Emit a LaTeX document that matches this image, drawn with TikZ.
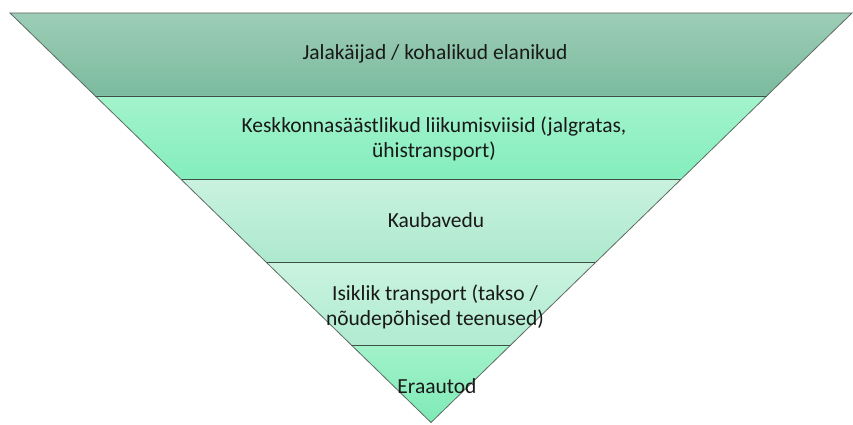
\documentclass[tikz,border=0pt]{standalone}
\usepackage{fontspec}
\setmainfont{Carlito}
\definecolor{bAt}{HTML}{9DCDB6}\definecolor{bAb}{HTML}{7BBB9E}
\definecolor{bBt}{HTML}{A3F3CC}\definecolor{bBb}{HTML}{84EEBD}
\definecolor{bCt}{HTML}{C9F2DF}\definecolor{bCb}{HTML}{ADE9CD}
\definecolor{bDt}{HTML}{CAF3DF}\definecolor{bDb}{HTML}{B0EBD1}
\definecolor{bEt}{HTML}{A2F2CA}\definecolor{bEb}{HTML}{7EEAB6}
\definecolor{edge}{HTML}{5E6A63}
\definecolor{sep}{HTML}{3E5046}
\begin{document}
\begin{tikzpicture}[x=1pt,y=-1pt,
  lbl/.style={font=\fontsize{21.5}{25}\selectfont, align=center, text=black!90, inner sep=0pt},
  outline/.style={draw=edge, line width=0.8pt},
  seprule/.style={draw=sep, line width=0.9pt}]
\useasboundingbox (0,0) rectangle (853,425);
\def\s{1.028}
\def\yA{13}\def\yB{96}\def\yC{179}\def\yD{262}\def\yE{345}\def\yF{422.5}
\coordinate (apex) at (431,\yF);
\foreach \ya/\yb/\ct/\cb in {\yA/\yB/bAt/bAb, \yB/\yC/bBt/bBb, \yC/\yD/bCt/bCb, \yD/\yE/bDt/bDb}{
  \shade[top color=\ct, bottom color=\cb]
    ({10+(\ya-13)*\s},\ya) -- ({852-(\ya-13)*\s},\ya) --
    ({852-(\yb-13)*\s},\yb) -- ({10+(\yb-13)*\s},\yb) -- cycle;
}
\shade[top color=bEt, bottom color=bEb]
  ({10+(\yE-13)*\s},\yE) -- ({852-(\yE-13)*\s},\yE) -- (apex) -- cycle;
% separators
\foreach \y in {\yB,\yC,\yD,\yE}{
  \draw[seprule] ({10+(\y-13)*\s},\y) -- ({852-(\y-13)*\s},\y);
}
% outline
\draw[outline] (10,\yA) coordinate (tl) -- (852,\yA) coordinate (tr) -- (apex) -- cycle;
% labels
\node[lbl, anchor=base] (t1) at (435,60) {Jalakäijad / kohalikud elanikud};
\node[lbl] (t2) at (434,139) {Keskkonnasäästlikud liikumisviisid (jalgratas,\\ühistransport)};
\node[lbl, anchor=base] (t3) at (436,227) {Kaubavedu};
\node[lbl] (t4) at (435,307) {Isiklik transport (takso /\\nõudepõhised teenused)};
\node[lbl, anchor=base] (t5) at (437,393) {Eraautod};
\end{tikzpicture}
\end{document}
